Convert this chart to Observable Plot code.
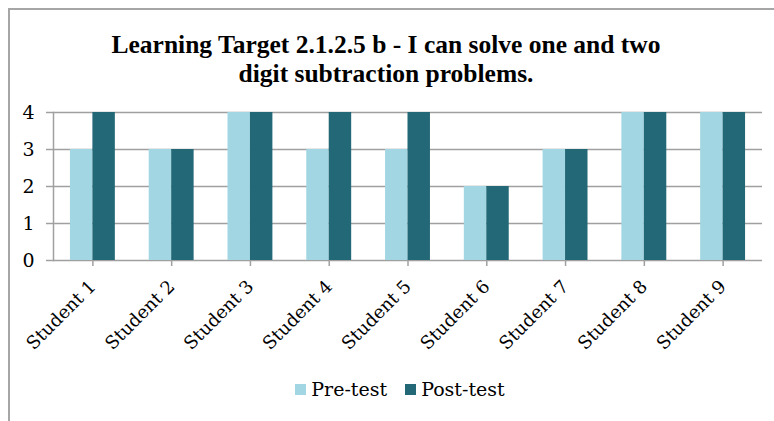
<!DOCTYPE html>
<html>
<head>
<meta charset="utf-8">
<script src="https://cdn.jsdelivr.net/npm/d3@7"></script>
<script src="https://cdn.jsdelivr.net/npm/@observablehq/plot@0.6"></script>
<style>
  html, body { margin: 0; padding: 0; background: #fff; width: 774px; height: 421px; overflow: hidden; position: relative; }
  #frame { position: absolute; left: 8px; top: 8px; width: 770px; height: 420px; border-left: 2px solid #a6a6a6; border-top: 2px solid #a6a6a6; }
  #title { position: absolute; left: 0; top: 30px; width: 772px; text-align: center; font-family: "Liberation Serif", serif; font-weight: bold; font-size: 25.5px; line-height: 29px; color: #000; }
  #chart { position: absolute; left: 0; top: 100px; }
  #legend { position: absolute; left: 0; top: 378px; width: 800px; display: flex; justify-content: center; font-family: "DejaVu Serif", serif; font-size: 19px; color: #000; }
  .item { display: flex; align-items: center; margin: 0 9px; }
  .sw { width: 11px; height: 11px; margin-right: 5px; }
</style>
</head>
<body>
<div id="frame"></div>
<div id="title">Learning Target 2.1.2.5 b - I can solve one and two<br>digit subtraction problems.</div>
<div id="chart"></div>
<div id="legend"></div>
<script>
const students = ["Student 1","Student 2","Student 3","Student 4","Student 5","Student 6","Student 7","Student 8","Student 9"];
const preTest  = [3, 3, 4, 3, 3, 2, 3, 4, 4];
const postTest = [4, 3, 4, 4, 4, 2, 3, 4, 4];
const seriesNames = ["Pre-test", "Post-test"];
const seriesColors = ["#a2d6e2", "#236877"];
const yTicks = [0, 1, 2, 3, 4];

const preData = students.map((s, i) => ({student: s, value: preTest[i]}));
const postData = students.map((s, i) => ({student: s, value: postTest[i]}));

const W = 774, H = 265, mL = 53, mR = 12;
const step = (W - mL - mR) / students.length;
const bandW = step * 0.57;
const half = bandW / 2;

const plot = Plot.plot({
  width: W,
  height: H,
  marginTop: 12,
  marginBottom: 105,
  marginLeft: mL,
  marginRight: mR,
  style: {fontFamily: "DejaVu Serif, serif", fontSize: "18px", color: "#000", background: "transparent"},
  x: {domain: students, paddingInner: 0.43, paddingOuter: 0.215, round: false, label: null},
  y: {domain: [0, 4], label: null},
  marks: [
    Plot.ruleY(yTicks, {stroke: "#a0a0a0", strokeWidth: 1.5}),
    Plot.barY(preData, {x: "student", y: "value", fill: seriesColors[0], insetRight: half}),
    Plot.barY(postData, {x: "student", y: "value", fill: seriesColors[1], insetLeft: half}),
    Plot.frame({anchor: "left", stroke: "#a0a0a0", strokeWidth: 1.5}),
    Plot.axisY({ticks: yTicks, tickSize: 7, tickPadding: 12, stroke: "#a0a0a0", strokeWidth: 1.5, fontSize: 19, tickFormat: d => String(d)}),
    Plot.axisX({tickSize: 6, tickPadding: 17, dx: 0, tickRotate: -45, stroke: "#a0a0a0", strokeWidth: 1.5, fontSize: 18})
  ]
});
document.getElementById("chart").appendChild(plot);

const legend = document.getElementById("legend");
seriesNames.forEach((n, i) => {
  const it = document.createElement("div");
  it.className = "item";
  const sw = document.createElement("div");
  sw.className = "sw";
  sw.style.background = seriesColors[i];
  const t = document.createElement("span");
  t.textContent = n;
  it.appendChild(sw); it.appendChild(t);
  legend.appendChild(it);
});
</script>
</body>
</html>
